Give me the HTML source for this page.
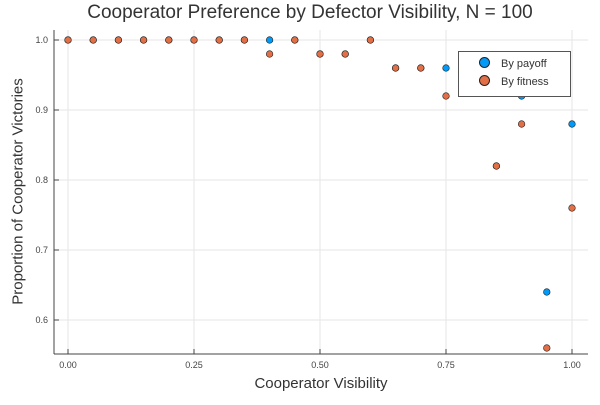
<!DOCTYPE html>
<html><head><meta charset="utf-8"><style>
body{margin:0;background:#fff;font-family:"Liberation Sans",sans-serif}
</style></head><body>
<svg id="c" width="600" height="400" xmlns="http://www.w3.org/2000/svg"></svg>
<script>
const xs=[0,0.05,0.1,0.15,0.2,0.25,0.3,0.35,0.4,0.45,0.5,0.55,0.6,0.65,0.7,0.75,0.8,0.85,0.9,0.95,1.0];
const payoff=[1,1,1,1,1,1,1,1,1,1,0.98,0.98,1,0.96,0.96,0.96,0.94,0.82,0.92,0.64,0.88];
const fitness=[1,1,1,1,1,1,1,1,0.98,1,0.98,0.98,1,0.96,0.96,0.92,0.94,0.82,0.88,0.56,0.76];
const xTicks=[0,0.25,0.5,0.75,1.0];
const xTickLabels=["0.00","0.25","0.50","0.75","1.00"];
const yTicks=[0.6,0.7,0.8,0.9,1.0];
const yTickLabels=["0.6","0.7","0.8","0.9","1.0"];
const L=54,R=588,T=30,B=354;
const sx=v=>68+v*504, sy=v=>40+(1-v)*700;
const svg=document.getElementById('c');
const NS="http://www.w3.org/2000/svg";
function mk(t,a,p){const e=document.createElementNS(NS,t);for(const k in a)e.setAttribute(k,a[k]);(p||svg).appendChild(e);return e;}
xTicks.forEach((v,i)=>{
 const g=mk('line',{x1:sx(v),x2:sx(v),y1:T,y2:B,stroke:'#e6e6e6','stroke-width':1});
 
 
 mk('line',{x1:sx(v),x2:sx(v),y1:B,y2:B-5,stroke:'#444'});
 const t=mk('text',{x:sx(v),y:B+14,'font-size':9,'text-anchor':'middle',fill:'#444'});
 t.textContent=xTickLabels[i];
 
 
});
yTicks.forEach((v,i)=>{
 const g=mk('line',{x1:L,x2:R,y1:sy(v),y2:sy(v),stroke:'#e6e6e6','stroke-width':1});
 
 
 mk('line',{x1:L,x2:L+5,y1:sy(v),y2:sy(v),stroke:'#444'});
 const t=mk('text',{x:L-6,y:sy(v)+3,'font-size':9,'text-anchor':'end',fill:'#444'});
 t.textContent=yTickLabels[i];
 
 
});
mk('line',{x1:L,x2:L,y1:T,y2:B,stroke:'#444'});
mk('line',{x1:L,x2:R,y1:B,y2:B,stroke:'#444'});
xs.forEach((x,i)=>{
 const c=mk('circle',{cx:sx(x),cy:sy(payoff[i]),r:3.3,fill:'#009af9',stroke:'#222','stroke-width':0.6});
 
 
});
xs.forEach((x,i)=>{
 const c=mk('circle',{cx:sx(x),cy:sy(fitness[i]),r:3.3,fill:'#e26f46',stroke:'#222','stroke-width':0.6});
 
 
});
</script>
<div style="position:absolute;left:0;top:2px;width:620px;text-align:center;font-size:19px;color:#333">Cooperator Preference by Defector Visibility, N = 100</div>
<div style="position:absolute;left:54px;top:375px;width:534px;text-align:center;font-size:15px;color:#333">Cooperator Visibility</div>
<div style="position:absolute;left:-132px;top:183px;width:300px;text-align:center;font-size:15px;color:#333;white-space:nowrap;transform:rotate(-90deg)">Proportion of Cooperator Victories</div>
<div style="position:absolute;left:458px;top:51px;width:111px;height:44px;border:1px solid #555;background:#fff;font-size:11px;color:#333">
<div style="position:absolute;left:20px;top:5px"><span style="display:inline-block;width:9px;height:9px;border-radius:50%;background:#009af9;border:0.5px solid #222;vertical-align:-1px"></span><span style="margin-left:11px">By payoff</span></div>
<div style="position:absolute;left:20px;top:23px"><span style="display:inline-block;width:9px;height:9px;border-radius:50%;background:#e26f46;border:0.5px solid #222;vertical-align:-1px"></span><span style="margin-left:11px">By fitness</span></div>
</div>
</body></html>
